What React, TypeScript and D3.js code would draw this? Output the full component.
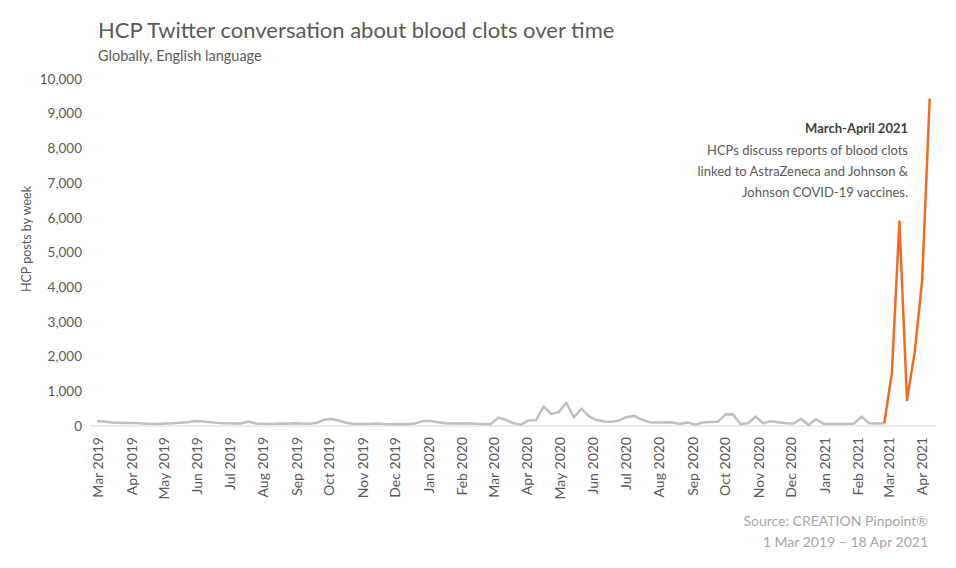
import React from "react";
import * as d3 from "d3";

const START_DATE = "2019-03-01";
const END_LABEL_DATE = "2021-04-02";

// Weekly HCP posts (grey: Mar 2019 – Mar 2021), last value is the junction with the orange series
const greyValues: number[] = [
  140, 130, 100, 95, 90, 85, 75, 65, 60, 70,
  80, 95, 110, 145, 130, 110, 90, 80, 70, 70,
  130, 70, 65, 60, 70, 65, 80, 70, 65, 90,
  180, 200, 150, 90, 60, 55, 60, 75, 60, 50,
  55, 50, 70, 140, 150, 110, 80, 70, 70, 80,
  65, 60, 50, 240, 180, 80, 40, 160, 170, 560,
  350, 400, 670, 250, 500, 280, 170, 130, 120, 160,
  260, 290, 180, 110, 100, 110, 100, 60, 100, 40,
  100, 115, 120, 330, 340, 60, 80, 270, 80, 140,
  110, 80, 70, 210, 30, 195, 60, 60, 60, 60,
  70, 270, 80, 70, 80,
];
// Weekly HCP posts, March–April 2021 (highlighted)
const orangeValues: number[] = [80, 1530, 5890, 750, 2100, 4200, 9440];

const yTicks: number[] = [0, 1000, 2000, 3000, 4000, 5000, 6000, 7000, 8000, 9000, 10000];

const titleText = "HCP Twitter conversation about blood clots over time";
const subtitleText = "Globally, English language";
const yAxisTitle = "HCP posts by week";
const annotationTitle = "March-April 2021";
const annotationLines: string[] = [
  "HCPs discuss reports of blood clots",
  "linked to AstraZeneca and Johnson &",
  "Johnson COVID-19 vaccines.",
];
const sourceLines: string[] = ["Source: CREATION Pinpoint®", "1 Mar 2019 – 18 Apr 2021"];

const FONT = "Lato, 'Open Sans', sans-serif";

export default function App() {
  const width = 956;
  const height = 568;
  const start = new Date(START_DATE + "T00:00:00Z");
  const weekDate = (i: number) => d3.utcDay.offset(start, i * 7);

  const grey = greyValues.map((v, i) => ({ d: weekDate(i), v }));
  const orangeOffset = greyValues.length - 1;
  const orange = orangeValues.map((v, i) => ({ d: weekDate(orangeOffset + i), v }));
  const lastDate = orange[orange.length - 1].d;

  const x = d3
    .scaleUtc()
    .domain([start, lastDate])
    .range([97, 929.7]);
  const y = d3.scaleLinear().domain([0, 10000]).range([426, 79]);

  const line = d3
    .line<{ d: Date; v: number }>()
    .x((p) => x(p.d))
    .y((p) => y(p.v));

  const months = d3.utcMonth.range(start, new Date(END_LABEL_DATE + "T00:00:00Z"));
  const monthFmt = d3.utcFormat("%b %Y");
  const numFmt = d3.format(",");

  return (
    <svg
      width={width}
      height={height}
      style={{ position: "absolute", left: 0, top: 0, background: "#fff" }}
      fontFamily={FONT}
    >
      <text x={98} y={38} fontSize={22} fill="#595959" fontWeight={400}>
        {titleText}
      </text>
      <text x={98} y={61} fontSize={14.5} fill="#595959">
        {subtitleText}
      </text>

      {yTicks.map((t) => (
        <text
          key={t}
          x={82}
          y={y(t)}
          dy="0.35em"
          textAnchor="end"
          fontSize={13.5}
          fill="#595959"
        >
          {numFmt(t)}
        </text>
      ))}
      <text
        transform={`translate(31,239) rotate(-90)`}
        textAnchor="middle"
        fontSize={12.5}
        fill="#595959"
      >
        {yAxisTitle}
      </text>

      <line x1={90} x2={936} y1={y(0)} y2={y(0)} stroke="#d9d9d9" strokeWidth={1} />

      {months.map((m) => (
        <text
          key={m.toISOString()}
          transform={`translate(${x(m) + 6},${437}) rotate(-90)`}
          textAnchor="end"
          fontSize={14}
          fill="#595959"
        >
          {monthFmt(m)}
        </text>
      ))}

      <path d={line(grey) || ""} fill="none" stroke="#bfbfbf" strokeWidth={2.5} strokeLinejoin="round" />
      <path d={line(orange) || ""} fill="none" stroke="#f26b21" strokeWidth={2.5} strokeLinejoin="round" />

      <text x={908} y={133} textAnchor="end" fontSize={13} fontWeight={700} fill="#404040">
        {annotationTitle}
      </text>
      {annotationLines.map((l, i) => (
        <text key={i} x={908} y={155 + i * 21} textAnchor="end" fontSize={13} fill="#595959">
          {l}
        </text>
      ))}

      {sourceLines.map((l, i) => (
        <text key={i} x={928} y={526 + i * 21} textAnchor="end" fontSize={14} fill="#a6a6a6">
          {l}
        </text>
      ))}
    </svg>
  );
}
